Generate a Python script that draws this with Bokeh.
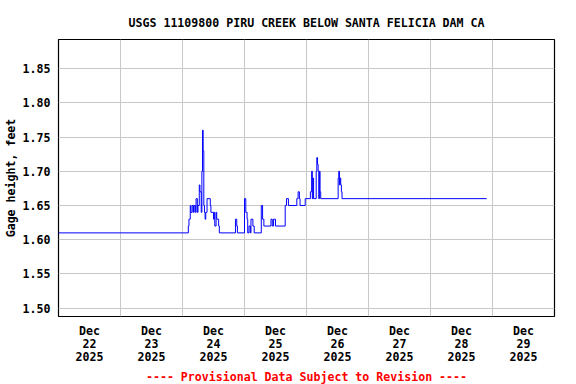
import pandas as pd
from bokeh.plotting import figure
from bokeh.models import (Range1d, FixedTicker, NumeralTickFormatter,
                          CustomJSTickFormatter, Title, ColumnDataSource)
from bokeh.embed import file_html
from bokeh.resources import INLINE

# ---- data ----
times = [
    "2025-12-22 00:00",
    "2025-12-24 02:15", "2025-12-24 02:30", "2025-12-24 03:00", "2025-12-24 03:15",
    "2025-12-24 03:45", "2025-12-24 04:15", "2025-12-24 04:30", "2025-12-24 05:00",
    "2025-12-24 05:15", "2025-12-24 05:45", "2025-12-24 06:00", "2025-12-24 06:30",
    "2025-12-24 06:45", "2025-12-24 07:15", "2025-12-24 07:30", "2025-12-24 07:45",
    "2025-12-24 08:00", "2025-12-24 08:15", "2025-12-24 08:30", "2025-12-24 08:45",
    "2025-12-24 09:00", "2025-12-24 09:30", "2025-12-24 10:45", "2025-12-24 11:00",
    "2025-12-24 12:00", "2025-12-24 12:15", "2025-12-24 12:30", "2025-12-24 13:00",
    "2025-12-24 13:15", "2025-12-24 14:00", "2025-12-24 14:15", "2025-12-24 20:30",
    "2025-12-24 21:00", "2025-12-24 21:15",
    "2025-12-25 00:00", "2025-12-25 00:30", "2025-12-25 01:00", "2025-12-25 01:15",
    "2025-12-25 01:45", "2025-12-25 02:15", "2025-12-25 02:30", "2025-12-25 03:15",
    "2025-12-25 03:45", "2025-12-25 06:30", "2025-12-25 07:00", "2025-12-25 07:30",
    "2025-12-25 10:15", "2025-12-25 10:45", "2025-12-25 11:15", "2025-12-25 12:00",
    "2025-12-25 15:45", "2025-12-25 16:15", "2025-12-25 17:00", "2025-12-25 20:15",
    "2025-12-25 20:45", "2025-12-25 21:15", "2025-12-25 21:30", "2025-12-25 23:30",
    "2025-12-26 01:30", "2025-12-26 02:00", "2025-12-26 02:15", "2025-12-26 02:30",
    "2025-12-26 02:45", "2025-12-26 03:45", "2025-12-26 04:00", "2025-12-26 04:15",
    "2025-12-26 04:30", "2025-12-26 04:45", "2025-12-26 05:00", "2025-12-26 05:15",
    "2025-12-26 05:30", "2025-12-26 12:15", "2025-12-26 12:30", "2025-12-26 12:45",
    "2025-12-26 13:00", "2025-12-26 13:15", "2025-12-26 13:30", "2025-12-26 13:45",
    "2025-12-28 21:45",
]
gage_height = [
    1.61,
    1.62, 1.63, 1.65, 1.64,
    1.65, 1.64, 1.65, 1.64,
    1.66, 1.64, 1.65, 1.68,
    1.67, 1.64, 1.70, 1.76,
    1.73, 1.65, 1.64, 1.63,
    1.64, 1.66, 1.65, 1.64,
    1.63, 1.64, 1.62, 1.64,
    1.63, 1.62, 1.61, 1.63,
    1.62, 1.61,
    1.66, 1.64, 1.63, 1.61,
    1.62, 1.61, 1.63, 1.62,
    1.61, 1.65, 1.63, 1.62,
    1.63, 1.62, 1.63, 1.62,
    1.65, 1.66, 1.65, 1.66,
    1.67, 1.66, 1.65, 1.66,
    1.67, 1.70, 1.66, 1.69,
    1.66, 1.70, 1.72, 1.71,
    1.70, 1.66, 1.70, 1.67,
    1.66, 1.69, 1.70, 1.68,
    1.69, 1.68, 1.67, 1.66,
    1.66,
]
day_labels = ["2025-12-22", "2025-12-23", "2025-12-24", "2025-12-25",
              "2025-12-26", "2025-12-27", "2025-12-28", "2025-12-29"]
y_ticks = [1.50, 1.55, 1.60, 1.65, 1.70, 1.75, 1.80, 1.85]

title_text = "USGS 11109800 PIRU CREEK BELOW SANTA FELICIA DAM CA"
provisional_text = "---- Provisional Data Subject to Revision ----"
y_label = "Gage height, feet"

FONT = "DejaVu Sans Mono"
FS = "11.6px"

t = pd.to_datetime(times)
src = ColumnDataSource(dict(t=t, h=gage_height))

x_start = pd.Timestamp("2025-12-22 00:00")
x_end = pd.Timestamp("2025-12-30 00:00")
y_lo, y_hi = 1.4879, 1.8924

W, H = 576, 384
B_L, B_R, B_T, B_B = 58, 22, 39, 68

p = figure(width=W, height=H, x_axis_type="datetime",
           output_backend="svg", toolbar_location=None,
           x_range=Range1d(x_start, x_end), y_range=Range1d(y_lo, y_hi),
           min_border_left=B_L, min_border_right=B_R,
           min_border_top=B_T, min_border_bottom=B_B)

p.step("t", "h", source=src, mode="after", line_color="#0000ff", line_width=1)

# title
p.title.text = title_text
p.title.align = "center"
p.title.text_font = FONT
p.title.text_font_style = "bold"
p.title.text_font_size = FS
p.title.text_color = "black"
p.title.standoff = 20

# outline
p.outline_line_color = "black"
p.outline_line_width = 1.2
p.background_fill_color = "white"
p.border_fill_color = "white"

# x axis: labels at noon, grid at midnight
noon_ticks = [(pd.Timestamp(d) + pd.Timedelta(hours=12)).value / 1e6 for d in day_labels]
midnight_ticks = [(pd.Timestamp(d) + pd.Timedelta(days=1)).value / 1e6 for d in day_labels]
xa = p.xaxis[0]
xa.ticker = FixedTicker(ticks=noon_ticks)
xa.formatter = CustomJSTickFormatter(code="""
const m = ["Jan","Feb","Mar","Apr","May","Jun","Jul","Aug","Sep","Oct","Nov","Dec"];
const d = new Date(tick);
return m[d.getUTCMonth()] + "\\n" + d.getUTCDate() + "\\n" + d.getUTCFullYear();
""")
p.xgrid[0].ticker = FixedTicker(ticks=midnight_ticks)

ya = p.yaxis[0]
ya.ticker = FixedTicker(ticks=y_ticks)
ya.formatter = NumeralTickFormatter(format="0.00")
ya.axis_label = y_label
ya.axis_label_standoff = 2

for ax in (xa, ya):
    ax.axis_line_color = None
    ax.major_tick_line_color = None
    ax.minor_tick_line_color = None
    ax.major_tick_out = 0
    ax.major_tick_in = 0
    ax.major_label_text_font = FONT
    ax.major_label_text_font_style = "bold"
    ax.major_label_text_font_size = FS
    ax.major_label_text_color = "black"
    ax.axis_label_text_font = FONT
    ax.axis_label_text_font_style = "bold"
    ax.axis_label_text_font_size = FS
    ax.axis_label_text_color = "black"
xa.major_label_standoff = 7
xa.major_label_text_line_height = 0.95
ya.major_label_standoff = 8

for g in (p.xgrid[0], p.ygrid[0]):
    g.grid_line_color = "#c8c8c8"
    g.grid_line_width = 1

# provisional note under the axis
note = Title(text=provisional_text, align="center", text_font=FONT,
             text_font_style="bold", text_font_size=FS, text_color="red",
             standoff=0)
p.add_layout(note, "below")

open("out.html", "w").write(file_html(p, INLINE))
